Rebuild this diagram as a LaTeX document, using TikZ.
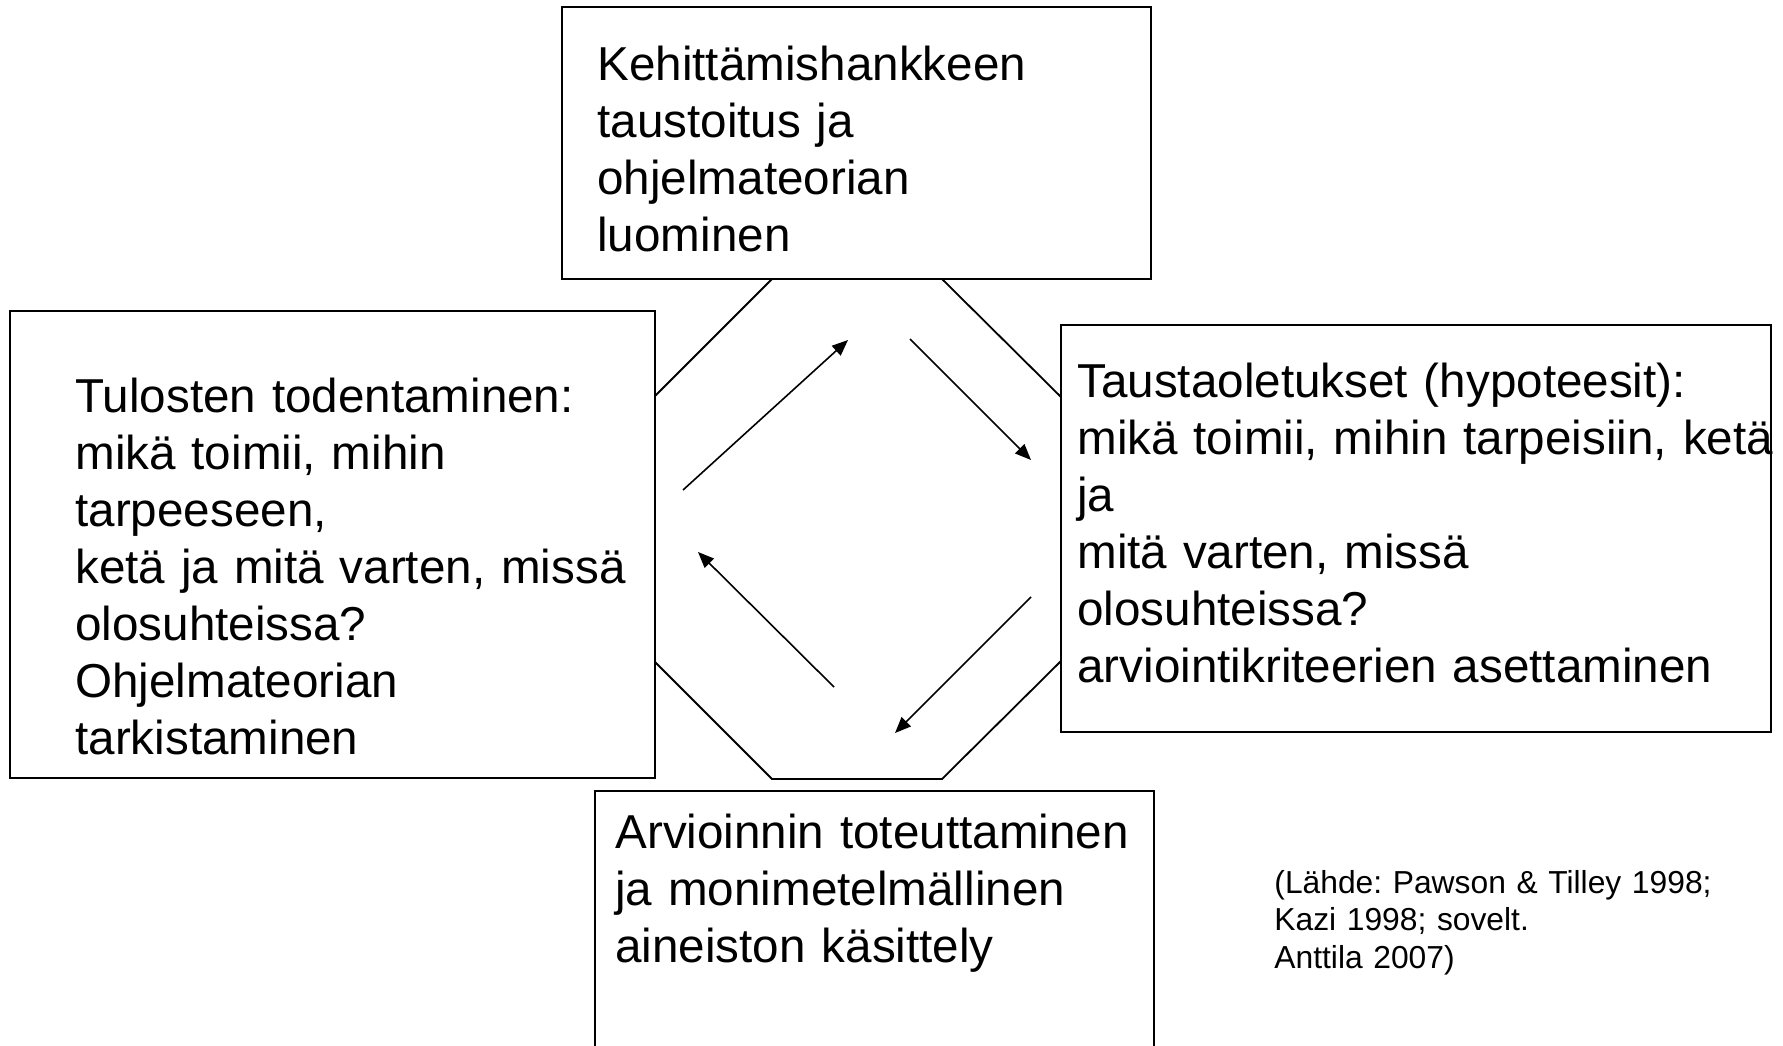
\documentclass[tikz,border=0pt]{standalone}
\usepackage{fontspec}
\setmainfont{Liberation Sans}[WordSpace=0.78]
\usetikzlibrary{arrows.meta}
\frenchspacing

\begin{document}
\begin{tikzpicture}[x=0.5pt,y=-0.5pt,
  box/.style={draw,line width=1pt,fill=white},
  txt/.style={anchor=base west,inner sep=0pt,align=left,text width=350pt,font=\fontsize{23.8}{28.5}\selectfont},
  note/.style={anchor=base west,inner sep=0pt,align=left,text width=250pt,font=\fontsize{15.9}{18.75}\selectfont},
  arr/.style={line width=0.8pt,-{Triangle[length=8pt,width=6.5pt]}}]
  \useasboundingbox (0,0) rectangle (1783,1045);
  % Octagon
  \coordinate (oa) at (772,279);
  \coordinate (ob) at (942,279);
  \coordinate (oc) at (1061,397);
  \coordinate (od) at (1061,661);
  \coordinate (oe) at (942,779);
  \coordinate (of) at (772,779);
  \coordinate (og) at (655,662);
  \coordinate (oh) at (655,396);
  \draw[line width=0.9pt] (oa) -- (ob) -- (oc) -- (od) -- (oe) -- (of) -- (og) -- (oh) -- cycle;
  % Boxes
  \draw[box] (562,7) rectangle (1151,279);
  \draw[box] (10,311) rectangle (655,778);
  \draw[box] (1061,325) rectangle (1771,732);
  \draw[box] (595,791) rectangle (1154,1070);
  % Arrows
  \coordinate (a1s) at (683,490);
  \coordinate (a1e) at (848,340);
  \coordinate (a2s) at (910,339);
  \coordinate (a2e) at (1031,460);
  \coordinate (a3s) at (1031,597);
  \coordinate (a3e) at (895,733);
  \coordinate (a4s) at (834,687);
  \coordinate (a4e) at (698,552);
  \draw[arr] (a1s) -- (a1e);
  \draw[arr] (a2s) -- (a2e);
  \draw[arr] (a3s) -- (a3e);
  \draw[arr] (a4s) -- (a4e);
  % Texts
  \node[txt] (kehitys) at (597,80) {Kehittämishankkeen\\taustoitus ja\\ohjelmateorian\\luominen};
  \node[txt] (tulokset) at (75,412) {Tulosten todentaminen:\\mikä toimii, mihin\\tarpeeseen,\\ketä ja mitä varten, missä\\olosuhteissa?\\Ohjelmateorian\\tarkistaminen};
  \node[txt] (oletukset) at (1077,397) {Taustaoletukset (hypoteesit):\\mikä toimii, mihin tarpeisiin, ketä\\ja\\mitä varten, missä\\olosuhteissa?\\arviointikriteerien asettaminen};
  \node[txt] (arviointi) at (615,848) {Arvioinnin toteuttaminen\\ja monimetelmällinen\\aineiston käsittely};
  \node[note] (lahde) at (1274,893) {(Lähde: Pawson \& Tilley 1998;\\Kazi 1998; sovelt.\\Anttila 2007)};
\end{tikzpicture}
\end{document}
